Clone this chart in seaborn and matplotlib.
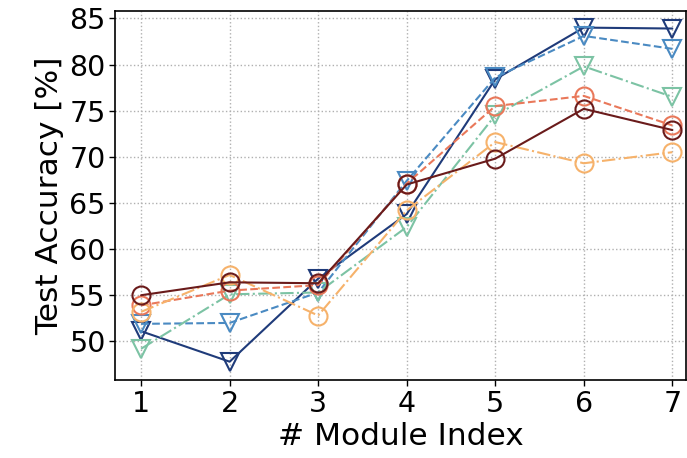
import pandas as pd
import matplotlib
matplotlib.use("Agg")
import matplotlib.pyplot as plt
import seaborn as sns

# module index on the x axis
modules = [1, 2, 3, 4, 5, 6, 7]

# test accuracy per series
navy_acc = [51.1, 47.8, 56.8, 63.8, 78.4, 84.0, 83.9]
blue_acc = [51.9, 52.0, 55.3, 67.4, 78.6, 83.1, 81.7]
green_acc = [49.2, 55.1, 55.3, 62.4, 74.5, 79.8, 76.5]
coral_acc = [53.9, 55.5, 56.1, 67.1, 75.5, 76.6, 73.4]
peach_acc = [53.2, 57.2, 52.8, 64.2, 71.6, 69.3, 70.5]
maroon_acc = [55.0, 56.4, 56.3, 67.0, 69.8, 75.2, 72.9]

y_ticks = [50, 55, 60, 65, 70, 75, 80, 85]

sns.set_style("ticks", {"text.color": "black", "axes.labelcolor": "black",
                        "xtick.color": "black", "ytick.color": "black"})
plt.rcParams["font.family"] = ["DejaVu Sans"]

fig = plt.figure(figsize=(6.87, 4.58), dpi=100)
ax = fig.add_axes([0.168, 0.170, 0.830, 0.806])

series = [
    (navy_acc, "#1f3b7a", "-", "v"),
    (blue_acc, "#4a8ac2", "--", "v"),
    (green_acc, "#7cc3a4", "-.", "v"),
    (coral_acc, "#e9785a", "--", "o"),
    (peach_acc, "#f6b26b", "-.", "o"),
    (maroon_acc, "#6a1b1b", "-", "o"),
]

for vals, col, ls, mk in series:
    df = pd.DataFrame({"module": modules, "acc": vals})
    sns.lineplot(data=df, x="module", y="acc", ax=ax, color=col,
                 linestyle=ls, linewidth=1.5, marker=mk, markersize=13,
                 markerfacecolor="none", markeredgecolor=col,
                 markeredgewidth=1.5)

ax.set_xlim(0.71, 7.15)
ax.set_ylim(45.8, 85.8)
ax.set_xticks(modules)
ax.set_yticks(y_ticks)
ax.grid(True, linestyle=":", color="#b0b0b0", linewidth=1.0)
ax.tick_params(labelsize=20.5, length=4, width=1, colors="black", pad=3)
for s in ax.spines.values():
    s.set_color("black")
    s.set_linewidth(1.2)
ax.set_xlabel("# Module Index", fontsize=22.5, color="black", labelpad=3)
ax.set_ylabel("Test Accuracy [%]", fontsize=22.5, color="black", labelpad=4)

fig.savefig("out.png", dpi=100)
